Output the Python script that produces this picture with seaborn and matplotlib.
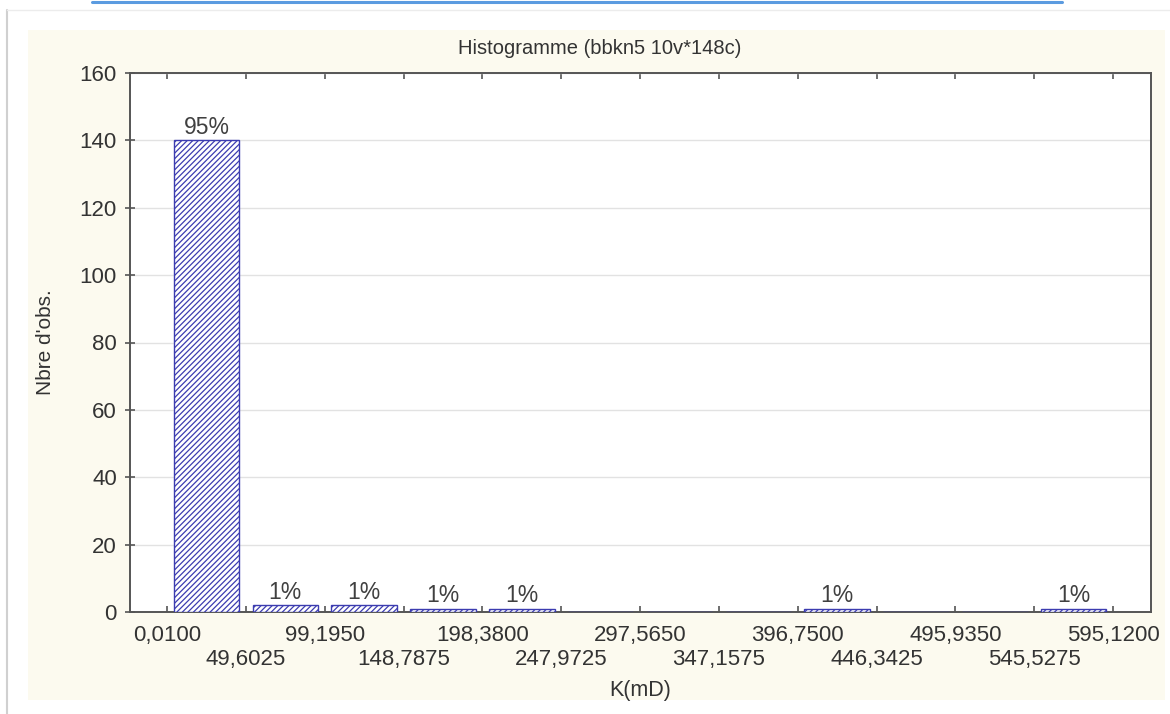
import numpy as np
import pandas as pd
import seaborn as sns
import matplotlib.pyplot as plt
from matplotlib.patches import Rectangle
from matplotlib.lines import Line2D

# ---- data ----
bin_edges = [0.0100, 49.6025, 99.1950, 148.7875, 198.3800, 247.9725, 297.5650,
             347.1575, 396.7500, 446.3425, 495.9350, 545.5275, 595.1200]
counts = [140, 2, 2, 1, 1, 0, 0, 0, 1, 0, 0, 1]
tick_labels = ["0,0100", "49,6025", "99,1950", "148,7875", "198,3800", "247,9725",
               "297,5650", "347,1575", "396,7500", "446,3425", "495,9350",
               "545,5275", "595,1200"]
y_ticks = [0, 20, 40, 60, 80, 100, 120, 140, 160]
title = "Histogramme (bbkn5 10v*148c)"
xlabel = "K(mD)"
ylabel = "Nbre d'obs."

sns.set_theme(style="white")
plt.rcParams['font.family'] = ['Liberation Sans', 'DejaVu Sans']
plt.rcParams['hatch.linewidth'] = 0.9
plt.rcParams['hatch.color'] = '#5a5ab4'

W, H = 1170, 714
fig = plt.figure(figsize=(W / 100, H / 100), dpi=100)
fig.patch.set_facecolor('white')

# cream panel and frame decorations
fig.add_artist(Rectangle((28 / W, 1 - 700 / H), (1165 - 28) / W, (700 - 30) / H,
                         transform=fig.transFigure, facecolor='#fcfaef',
                         edgecolor='none', zorder=-10))
fig.add_artist(Line2D([7 / W, 7 / W], [0, 1 - 10 / H], transform=fig.transFigure,
                      color='#d0d0d0', lw=1.5, zorder=-5))
fig.add_artist(Line2D([7 / W, 1], [1 - 10 / H, 1 - 10 / H], transform=fig.transFigure,
                      color='#ececec', lw=1, zorder=-5))
fig.add_artist(Line2D([92 / W, 1062 / W], [1 - 1.5 / H, 1 - 1.5 / H],
                      transform=fig.transFigure, color='#5b9be0', lw=2.2, zorder=-5))

left, right, top, bottom = 130, 1151, 73, 612
ax = fig.add_axes([left / W, 1 - bottom / H, (right - left) / W, (bottom - top) / H])
ax.set_facecolor('white')

centers = [(bin_edges[i] + bin_edges[i + 1]) / 2 for i in range(len(counts))]
df = pd.DataFrame({"K": centers, "n": counts})
sns.histplot(data=df, x="K", weights="n", bins=bin_edges, shrink=0.83,
             stat="count", fill=True, color='white', edgecolor='#3c3cb0',
             linewidth=1.0, hatch='//////', alpha=1, ax=ax, zorder=3)

total = sum(counts)
for c, n in zip(centers, counts):
    if n > 0:
        ax.annotate(f"{round(n / total * 100)}%", xy=(c, n), xytext=(0, 1),
                    textcoords='offset points', ha='center', va='bottom',
                    fontsize=16.5, color='#404040', zorder=5)

ax.set_xlim(-23.3, 619.0)
ax.set_ylim(0, 160)
ax.set_yticks(y_ticks)
ax.set_yticklabels([str(v) for v in y_ticks])

# alternate rows: even edges as major ticks, odd edges as minor ticks (lower row)
ax.set_xticks(bin_edges[0::2])
ax.set_xticklabels(tick_labels[0::2])
ax.set_xticks(bin_edges[1::2], minor=True)
ax.set_xticklabels(tick_labels[1::2], minor=True)

ax.grid(axis='y', color='#e2e2e2', lw=1.0, zorder=0)
ax.grid(axis='x', visible=False)
ax.set_axisbelow(True)

for s in ax.spines.values():
    s.set_color('#555555')
    s.set_linewidth(1.4)
    s.set_visible(True)

ax.tick_params(axis='x', which='major', direction='in', length=4, width=1.2,
               color='#555555', top=True, bottom=True, labelsize=16,
               labelcolor='#333333', pad=9)
ax.tick_params(axis='x', which='minor', direction='in', length=4, width=1.2,
               color='#555555', top=True, bottom=True, labelsize=16,
               labelcolor='#333333', pad=26.5)
ax.tick_params(axis='y', which='both', direction='inout', length=7, width=1.2,
               color='#555555', left=True, right=False, labelsize=16,
               labelcolor='#333333', pad=6)

ax.set_xlabel(xlabel, fontsize=15.5, color='#333333')
ax.set_ylabel(ylabel, fontsize=15, color='#333333')
ax.xaxis.set_label_coords(0.5, -0.126)
ax.yaxis.set_label_coords(-0.073, 0.5)

fig.text(600 / W, 1 - 48 / H, title, ha='center', va='center', fontsize=14.5,
         color='#333333')

fig.savefig('out.png', dpi=100, facecolor=fig.get_facecolor())
